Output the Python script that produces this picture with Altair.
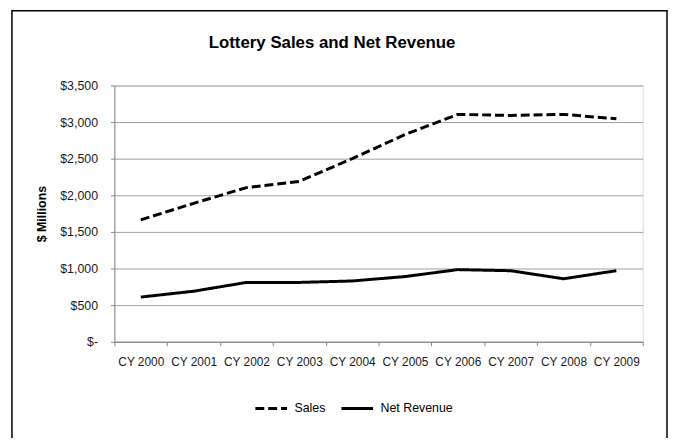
import altair as alt
import pandas as pd

years = ["CY 2000", "CY 2001", "CY 2002", "CY 2003", "CY 2004",
         "CY 2005", "CY 2006", "CY 2007", "CY 2008", "CY 2009"]
sales = [1665, 1890, 2105, 2190, 2500, 2830, 3105, 3090, 3105, 3045]
net_revenue = [610, 690, 810, 810, 830, 890, 985, 970, 860, 970]
series_names = ["Sales", "Net Revenue"]
y_ticks = [0, 500, 1000, 1500, 2000, 2500, 3000, 3500]

rows = []
for name, vals in zip(series_names, [sales, net_revenue]):
    for yr, v in zip(years, vals):
        rows.append({"year": yr, "value": v, "series": name})
df = pd.DataFrame(rows)

FONT = "Liberation Sans"
GRAY = "#a0a0a0"
AXIS_GRAY = "#868686"

lines = alt.Chart(df).mark_line(color="black", strokeWidth=3, strokeCap="butt").encode(
    x=alt.X("year:N", sort=years, bandPosition=0.5,
            scale=alt.Scale(type="band", paddingInner=0, paddingOuter=0),
            axis=alt.Axis(title=None, labelAngle=0, tickBand="extent", grid=False,
                          domainColor=AXIS_GRAY, tickColor=AXIS_GRAY, tickSize=4,
                          labelBaseline="middle", labelPadding=16,
                          labelFont=FONT, labelFontSize=12, labelColor="#1a1a1a")),
    y=alt.Y("value:Q", scale=alt.Scale(domain=[0, 3500], nice=False),
            axis=alt.Axis(values=y_ticks, title="$ Millions",
                          labelExpr="datum.value == 0 ? '$-\u00a0\u00a0' : '$' + format(datum.value, ',')",
                          grid=True, gridColor=GRAY, gridWidth=1,
                          domainColor=AXIS_GRAY, tickColor=AXIS_GRAY, tickSize=4,
                          labelPadding=13, labelFont=FONT, labelFontSize=12.5,
                          labelColor="#1a1a1a",
                          titleFont=FONT, titleFontSize=12.5, titleFontWeight="bold",
                          titleColor="black", titleX=-73.5, titleY=129.5,
                          titleAngle=-90, titleAlign="center", titleBaseline="middle")),
    strokeDash=alt.StrokeDash("series:N", sort=series_names,
                              scale=alt.Scale(domain=series_names, range=[[9, 4], [1, 0]]),
                              legend=alt.Legend(title=None, orient="none", direction="horizontal",
                                                legendX=141, legendY=309,
                                                symbolType="stroke", symbolSize=1024,
                                                symbolStrokeWidth=3, symbolStrokeColor="black",
                                                labelFont=FONT, labelFontSize=12.5,
                                                labelColor="black", labelOffset=6,
                                                columnPadding=9, padding=0)),
)

frame = alt.Chart(alt.Data(values=[{"f": 1}])).mark_rect(
    filled=False, stroke="black", strokeWidth=1.5
).encode(
    x=alt.value(-103.5), x2=alt.value(558.5),
    y=alt.value(-75.5), y2=alt.value(440),
)

chart = alt.layer(lines, frame).properties(
    width=534, height=259,
    autosize=alt.AutoSizeParams(type="none"),
    padding={"left": 107.5, "top": 76, "right": 25.5, "bottom": 95},
    title=alt.TitleParams("Lottery Sales and Net Revenue", font=FONT, fontSize=17,
                          fontWeight="bold", color="black", anchor="middle",
                          frame="group", baseline="alphabetic", offset=-55, dx=-47),
).configure_view(stroke=None).configure(background="white")

chart.save("out.html", embed_options={"renderer": "svg", "actions": False})
